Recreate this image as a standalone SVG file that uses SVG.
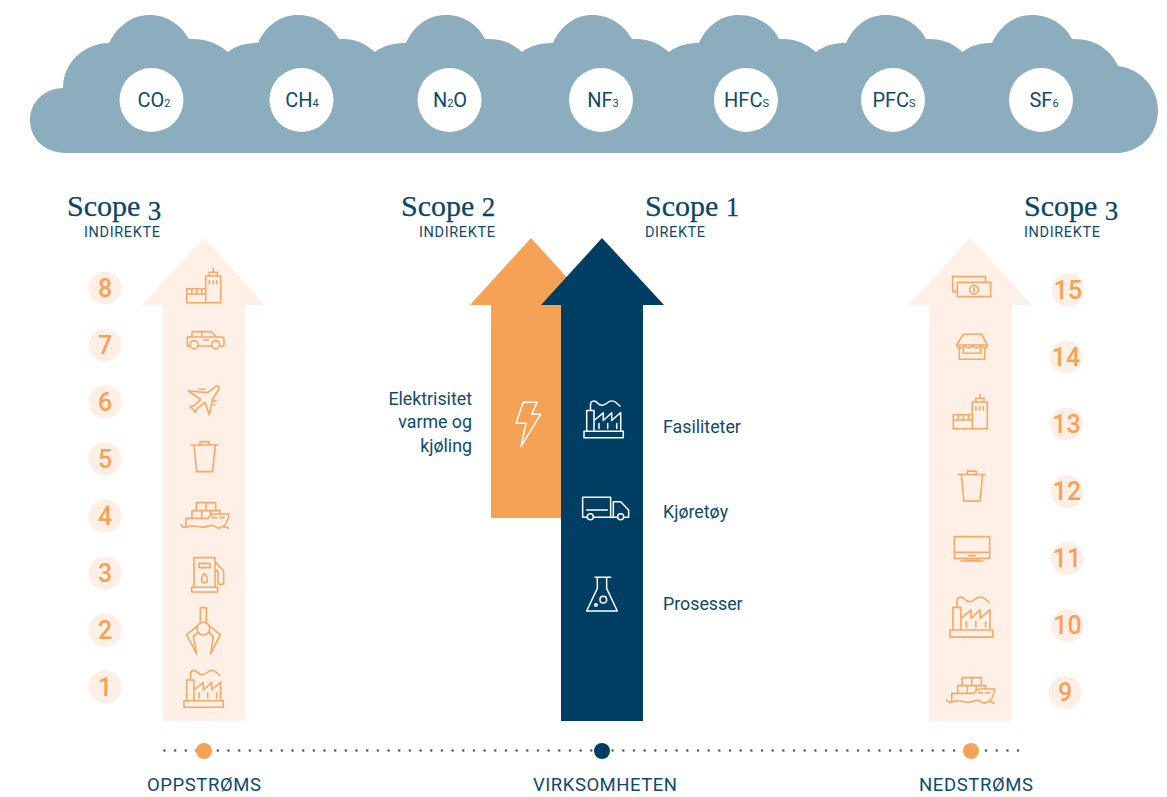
<svg xmlns="http://www.w3.org/2000/svg" xmlns:xlink="http://www.w3.org/1999/xlink" width="1167" height="797" viewBox="0 0 1167 797">
<style>
text{font-family:Roboto,"Liberation Sans",sans-serif;fill:#0f4a6b}
.scope{font-family:"Liberation Serif",serif;font-size:30px;fill:#0b4565;stroke:#0b4565;stroke-width:.25}
.sub{font-size:14.5px}
.gas{font-size:20px;text-anchor:middle}
.gas tspan{font-size:11px}
.lab{font-size:17.8px}
.end{text-anchor:end}
.axis{font-size:18.5px;text-anchor:middle}
.num{font-size:25px;text-anchor:middle;fill:#f5a257;font-weight:500}
.numc{fill:#feefe6}
.pale{fill:#fef0e7}
.o{fill:none;stroke:#f6a865;stroke-width:1.6;stroke-linejoin:round;stroke-linecap:round}
.w{fill:none;stroke:#fff;stroke-width:1.5;stroke-linejoin:round;stroke-linecap:round}
path,circle{vector-effect:non-scaling-stroke}
</style>
<defs>
<g id="factory">
<path d="M0,30.7H39.3V37.3H0Z M2.7,30.7V10H10V30.7 M6.5,10V4C6.5,0 11,-.5 13.5,2.5C16,5.5 20,5.5 23,2.5C26,0 30,-.5 33,3L36,5.5 M10,20L19.3,12.3V20L27.7,12.3V20L36.7,12V30.7 M15,23V28M23.7,23V28M32.7,23V28"/>
</g>
<g id="building">
<path d="M19,7.7H34V34.4H19Z M0,20.4H19V34.4H0Z M0,25.7H19 M5,20.4V25.7M10,20.4V25.7M15,20.4V25.7 M22.6,7.7V4H30.6V7.7 M26.6,4V0 M22.6,12.4V15.7M26.3,12.4V15.7M30,12.4V15.7"/>
</g>
<g id="trash" transform="translate(80,240) scale(.3333)">
<path d="M333,615H413 M360,615V605H387V615 M342,615L350,695H398L406,615"/>
</g>
<g id="ship" transform="translate(80,480) scale(.3333)">
<path d="M349,92V68H407V92 M378,68V92 M336,115V92H420V102 M365,92V115 M392,92V108 M318,140V115H385Q392,102 402,102H447Q445,125 430,140 M397,113H410M420,113H432 M303,135Q310,145 318,141T340,138T362,141T385,138T408,141T430,138L445,145"/>
</g>
</defs>

<g id="cloud">
<path fill="#8cadbe" d="M66,153C45,153 30,139 30,120C30,102 45,88 63,88C63,62 85,43 109,43C118,25 133,15 150,15C167,15 181,25 189,39C206,38 219,44 228,52C237,45 247,43 258,43C266,25 281,15 298,15C316,15 331,25 339,39C356,38 366,44 375,52C384,45 395,43 406,43C414,25 429,15 446,15C464,15 478,25 485,39C502,38 513,44 522,52C531,45 542,43 553,43C561,25 576,15 592,15C610,15 624,25 632,39C649,38 660,44 669,52C678,45 688,43 699,43C707,25 722,15 739,15C757,15 772,25 779,39C796,38 807,44 816,52C825,45 835,43 846,43C854,25 869,15 885.5,15C904,15 919,25 926,39C943,38 954,44 962.5,52C971,45 981,43 992,43C1000,25 1015,15 1032,15C1050,15 1065,25 1072,39C1095,38 1111,50 1118,66C1141,69 1158,88 1158,110C1158,133 1143,150 1120,153Z"/>
</g>
<g id="gas-co2"><circle cx="151.5" cy="100" r="32" fill="#fff"/><text class="gas" x="154" y="107">CO<tspan>2</tspan></text></g>
<g id="gas-ch4"><circle cx="301.5" cy="100" r="32" fill="#fff"/><text class="gas" x="302" y="107">CH<tspan>4</tspan></text></g>
<g id="gas-n2o"><circle cx="449.5" cy="100" r="32" fill="#fff"/><text class="gas" x="450" y="107">N<tspan>2</tspan>O</text></g>
<g id="gas-nf3"><circle cx="601" cy="100" r="32" fill="#fff"/><text class="gas" x="603" y="107">NF<tspan>3</tspan></text></g>
<g id="gas-hfcs"><circle cx="746" cy="100" r="32" fill="#fff"/><text class="gas" x="746.5" y="107">HFC<tspan>S</tspan></text></g>
<g id="gas-pfcs"><circle cx="893" cy="100" r="32" fill="#fff"/><text class="gas" x="894" y="107">PFC<tspan>S</tspan></text></g>
<g id="gas-sf6"><circle cx="1041" cy="100" r="32" fill="#fff"/><text class="gas" x="1044" y="107">SF<tspan>6</tspan></text></g>

<g id="scope3-left"><text class="scope" x="67" y="216">Scope <tspan font-size="27" dy="4">3</tspan></text><text class="sub" x="84" y="237" textLength="76">INDIREKTE</text></g>
<g id="scope2"><text class="scope" x="401" y="216">Scope <tspan font-size="27">2</tspan></text><text class="sub" x="419" y="237" textLength="76">INDIREKTE</text></g>
<g id="scope1"><text class="scope" x="645" y="216">Scope <tspan font-size="27">1</tspan></text><text class="sub" x="645" y="237" textLength="60">DIREKTE</text></g>
<g id="scope3-right"><text class="scope" x="1024" y="216">Scope <tspan font-size="27" dy="4">3</tspan></text><text class="sub" x="1024" y="237" textLength="76">INDIREKTE</text></g>

<g id="arrow-upstream"><path class="pale" d="M204,238L265,305H245V721H163V305H142Z"/></g>
<g id="arrow-scope2"><path fill="#f5a257" d="M531,238L592,305H620V518H491V305H470Z"/></g>
<g id="arrow-scope1"><path fill="#003f63" d="M602,238L664,305H643V721H561V305H541Z"/></g>
<g id="arrow-downstream"><path class="pale" d="M970,238L1032,305H1012V721H929V305H909Z"/></g>

<g id="upstream-1"><circle class="numc" cx="105" cy="687" r="16.5"/><text class="num" x="105" y="695.5">1</text><use class="o" href="#factory" transform="translate(184,670)"/></g>
<g id="upstream-2"><circle class="numc" cx="105" cy="630" r="16.5"/><text class="num" x="105" y="638.5">2</text><g class="o" transform="translate(80,480) scale(.3333)"><path d="M361,428V383H379V428 M352,438L320,465L350,522L340,470L352,458 M388,438L421,465L392,522L400,470L387,458"/><circle cx="370" cy="446" r="19"/></g></g>
<g id="upstream-3"><circle class="numc" cx="105" cy="573" r="16.5"/><text class="num" x="105" y="581.5">3</text><g class="o" transform="translate(80,480) scale(.3333)"><path d="M342,322V233H405V322 M335,322H413V336H335Z M357,250H390V263H357Z M373,280Q362,295 365,300A8.5,8.5 0 0 0 382,300Q384,295 373,280Z M405,245L431,273V305A8.5,8.5 0 0 1 414,305V278Q414,270 405,270"/></g></g>
<g id="upstream-4"><circle class="numc" cx="105" cy="516" r="16.5"/><text class="num" x="105" y="524.5">4</text><use class="o" href="#ship"/></g>
<g id="upstream-5"><circle class="numc" cx="105" cy="459" r="16.5"/><text class="num" x="105" y="467.5">5</text><use class="o" href="#trash"/></g>
<g id="upstream-6"><circle class="numc" cx="105" cy="402" r="16.5"/><text class="num" x="105" y="410.5">6</text><g class="o" transform="translate(80,240) scale(.3333)"><path d="M383,458L325,453L362,478L342,497L330,500L340,508L345,517L352,505L375,487L388,525L398,477L417,447Q420,436 408,439Z M358,448H375 M400,482H408 M400,495H405"/></g></g>
<g id="upstream-7"><circle class="numc" cx="105" cy="345" r="16.5"/><text class="num" x="105" y="353.5">7</text><g class="o" transform="translate(80,240) scale(.3333)"><path d="M330,318H322V291H336V280Q336,275 342,275H393L410,291H425Q432,291 432,298V318H420 M354,318H394 M336,291H410 M365,275V291 M370,300H385"/><circle cx="342" cy="314" r="12"/><circle cx="407" cy="314" r="12"/></g></g>
<g id="upstream-8"><circle class="numc" cx="105" cy="288" r="16.5"/><text class="num" x="105" y="296.5">8</text><use class="o" href="#building" transform="translate(186.7,268.3)"/></g>

<g id="downstream-9"><circle class="numc" cx="1065" cy="692.5" r="16.5"/><text class="num" x="1065" y="701">9</text><use class="o" href="#ship" transform="translate(765.7,175)"/></g>
<g id="downstream-10"><circle class="numc" cx="1067.5" cy="625.5" r="16.5"/><text class="num" x="1067.5" y="634">10</text><use class="o" href="#factory" transform="translate(950,596.5) scale(1.09)"/></g>
<g id="downstream-11"><circle class="numc" cx="1067" cy="558.5" r="16.5"/><text class="num" x="1067" y="567">11</text><g class="o" transform="translate(900,490) scale(.3333)"><path d="M163,140H269V205H163Z M163,187H269 M205,197H225 M197,205V212H235V205 M182,213H248"/></g></g>
<g id="downstream-12"><circle class="numc" cx="1067" cy="491.5" r="16.5"/><text class="num" x="1067" y="500">12</text><use class="o" href="#trash" transform="translate(767.3,29.5)"/></g>
<g id="downstream-13"><circle class="numc" cx="1066.5" cy="424" r="16.5"/><text class="num" x="1066.5" y="432.5">13</text><use class="o" href="#building" transform="translate(953.3,394.3)"/></g>
<g id="downstream-14"><circle class="numc" cx="1066" cy="357" r="16.5"/><text class="num" x="1066" y="365.5">14</text><g class="o" transform="translate(900,240) scale(.3333)"><path d="M170,315L190,283H245L262,315Z M178,322V358H254V322 M190,325V340H242V325 M170,315Q172,325 182,323Q190,325 194,315Q198,325 206,323Q214,325 218,315Q222,325 230,323Q238,325 242,315Q246,325 254,323Q261,325 262,315"/></g></g>
<g id="downstream-15"><circle class="numc" cx="1068" cy="290" r="16.5"/><text class="num" x="1068" y="298.5">15</text><g class="o" transform="translate(900,240) scale(.3333)"><path d="M172,155H158V110H257V127 M172,127H272V170H172Z M222,143V155"/><circle cx="222" cy="149" r="13"/></g></g>

<g id="electricity"><g class="w" transform="translate(380,380) scale(.3333)"><path d="M430,67H471L455,103H482L423,200L438,130H408Z"/></g><text class="lab end" x="472" y="405">Elektrisitet</text><text class="lab end" x="472" y="428">varme og</text><text class="lab end" x="472" y="452">kjøling</text></g>
<g id="facilities"><use class="w" href="#factory" transform="translate(584,400.5)"/><text class="lab" x="663" y="432.5">Fasiliteter</text></g>
<g id="vehicles"><g class="w" transform="translate(380,380) scale(.3333)"><path d="M620,412H608V352H692V412H642 M620,390H682 M700,412V365H722L746,390V412H733 M692,412H711"/><circle cx="631" cy="410" r="9"/><circle cx="722" cy="410" r="9"/></g><text class="lab" x="663" y="517.5">Kjøretøy</text></g>
<g id="processes"><g class="w" transform="translate(380,380) scale(.3333)"><path d="M645,592H692 M652,592V625L620,693H712L680,625V592"/><circle cx="670" cy="659" r="10"/><circle cx="648" cy="675" r="4"/></g><text class="lab" x="663" y="610">Prosesser</text></g>

<g id="connectors"><line x1="164.5" y1="750.5" x2="1021" y2="750.5" stroke="#5a5a5a" stroke-width="2.6" stroke-linecap="round" stroke-dasharray="0 10.67"/></g>
<g id="upstream"><circle cx="204" cy="751" r="8" fill="#f5a257"/><text class="axis" x="204" y="791" textLength="114">OPPSTRØMS</text></g>
<g id="company"><circle cx="602" cy="751" r="8" fill="#003f63"/><text class="axis" x="605" y="791" textLength="144">VIRKSOMHETEN</text></g>
<g id="downstream"><circle cx="971" cy="751" r="8" fill="#f5a257"/><text class="axis" x="976" y="791" textLength="114">NEDSTRØMS</text></g>
</svg>
